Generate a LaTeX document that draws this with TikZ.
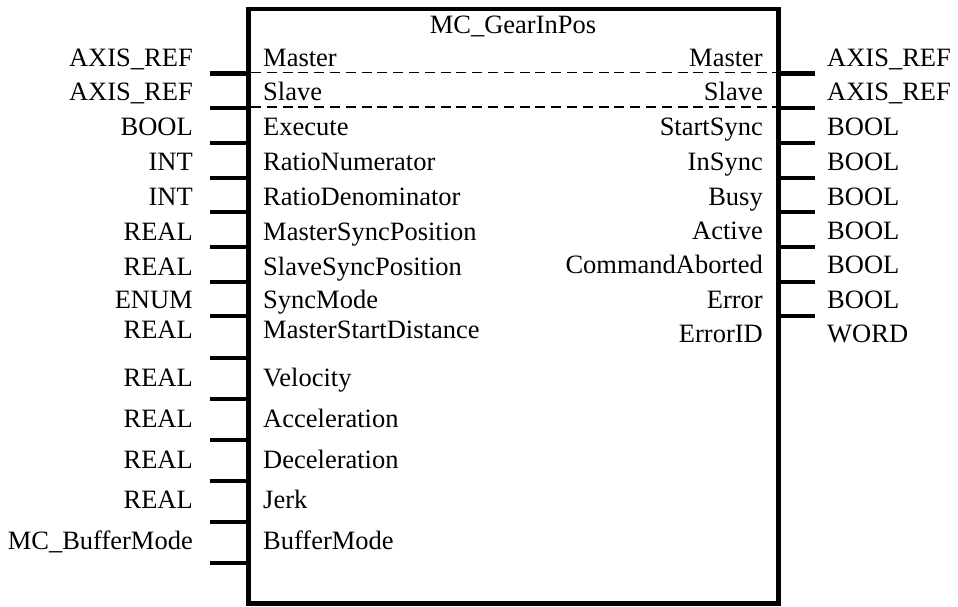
\documentclass[tikz,border=0pt]{standalone}
\usepackage{fontspec}
\setmainfont{Liberation Serif}
\begin{document}
\begin{tikzpicture}[x=1pt,y=-1pt,
  lbl/.style={inner sep=0pt, font=\fontsize{26.5}{30}\selectfont},
  pinline/.style={line width=4.7pt},
  sepline/.style={line width=1.3pt, dash pattern=on 10pt off 5.8pt}]
\useasboundingbox (0,0) rectangle (958,606);
% function block
\node[draw, line width=4.7pt, minimum width=530pt, minimum height=594.5pt,
      inner sep=0pt, outer sep=0pt] (fb) at (513.5,306.25) {};
\node[lbl, anchor=base] (title) at (513,33) {MC\_GearInPos};
% left pins
\foreach \y [count=\i] in {73.5,108,143,178,212,247,282,316,358,399,440,481,522,563} {
  \coordinate (li\i) at (248.5,\y);
  \coordinate (lo\i) at (210,\y);
  \draw[pinline] (li\i) -- (lo\i);
}
% right pins
\foreach \y [count=\i] in {73.5,108,143,178,212,247,282,316} {
  \coordinate (ri\i) at (778.5,\y);
  \coordinate (ro\i) at (815,\y);
  \draw[pinline] (ri\i) -- (ro\i);
}
% dashed separators
\coordinate (d1l) at (251,72.5); \coordinate (d1r) at (776,72.5);
\coordinate (d2l) at (251,107);  \coordinate (d2r) at (776,107);
\draw[sepline] (d1l) -- (d1r);
\draw[sepline] (d2l) -- (d2r);
% left labels
\foreach \t/\b/\n [count=\i] in {AXIS\_REF/66/Master, AXIS\_REF/100.5/Slave, BOOL/135.5/Execute,
  INT/170/RatioNumerator, INT/205/RatioDenominator, REAL/240/MasterSyncPosition,
  REAL/275/SlaveSyncPosition, ENUM/308/SyncMode, REAL/338/MasterStartDistance,
  REAL/386/Velocity, REAL/427/Acceleration, REAL/468/Deceleration, REAL/508/Jerk,
  MC\_BufferMode/549/BufferMode} {
  \node[lbl, anchor=base east] (lt\i) at (193,\b) {\t};
  \node[lbl, anchor=base west] (ln\i) at (263,\b) {\n};
}
% right labels
\foreach \t/\b/\n [count=\i] in {AXIS\_REF/66/Master, AXIS\_REF/100.5/Slave, BOOL/135.5/StartSync,
  BOOL/170/InSync, BOOL/205/Busy, BOOL/239.5/Active, BOOL/273.5/CommandAborted,
  BOOL/308/Error, WORD/342/ErrorID} {
  \node[lbl, anchor=base west] (rt\i) at (827,\b) {\t};
  \node[lbl, anchor=base east] (rn\i) at (763,\b) {\n};
}
\end{tikzpicture}
\end{document}
